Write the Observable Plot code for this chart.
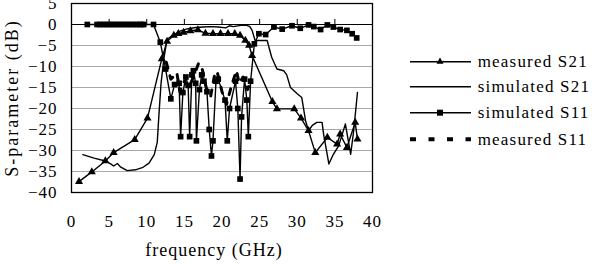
<!DOCTYPE html>
<html>
<head>
<meta charset="utf-8">
<script src="https://cdn.jsdelivr.net/npm/d3@7"></script>
<script src="https://cdn.jsdelivr.net/npm/@observablehq/plot@0.6"></script>
<style>
  html, body { margin: 0; padding: 0; background: #fff; }
  #chart svg { display: block; }
</style>
</head>
<body>
<div id="chart"></div>
<script>
// Axis ticks
const xTicks = [0, 5, 10, 15, 20, 25, 30, 35, 40];
const yTicks = [5, 0, -5, -10, -15, -20, -25, -30, -35, -40];

// Measured S21 (GHz, dB)
const measS21Freq = [1.0, 2.7, 4.5, 5.6, 8.4, 10.1, 12.0, 12.7, 13.6, 14.2, 14.9, 15.8, 16.8, 17.8, 18.8, 19.8, 20.8, 21.7, 22.4, 23.1, 23.6, 24.0, 26.7, 27.3, 29.6, 30.5, 31.5, 32.4, 34.0, 35.3, 35.7, 36.6, 37.7, 38.0];
const measS21dB   = [-37.4, -35.1, -32.5, -30.5, -27.4, -22.3, -8.2, -4.0, -2.6, -2.2, -1.9, -1.5, -1.3, -2.1, -2.2, -2.2, -2.2, -2.2, -2.6, -3.8, -5.0, -7.4, -18.4, -20.1, -20.1, -22.3, -25.3, -30.5, -26.9, -28.5, -26.1, -29.3, -23.3, -27.3];

// Simulated S21
const simS21Freq = [1.5, 3.0, 4.5, 5.2, 5.6, 6.1, 6.5, 7.4, 8.5, 9.5, 10.3, 11.0, 11.4, 11.6, 11.9, 12.3, 12.7, 13.5, 14.5, 15.5, 16.5, 17.5, 18.5, 19.5, 20.5, 21.0, 21.5, 22.5, 23.3, 23.7, 24.0, 24.4, 25.0, 26.0, 26.6, 27.3, 28.2, 28.6, 29.1, 30.0, 30.6, 31.1, 31.5, 32.0, 32.6, 33.3, 33.5, 34.2, 34.8, 35.5, 36.4, 37.1, 37.5, 38.0];
const simS21dB   = [-31.0, -31.8, -32.5, -33.2, -33.7, -33.1, -33.9, -34.8, -34.6, -34.0, -33.0, -31.0, -28.0, -22.0, -14.0, -7.8, -3.5, -2.5, -1.5, -1.0, -0.7, -0.6, -0.5, -0.6, -0.8, -0.3, -0.5, -0.2, -0.2, -0.5, -1.4, -3.8, -3.8, -3.8, -7.8, -10.6, -11.0, -12.0, -15.0, -16.5, -17.4, -22.9, -25.3, -24.0, -23.3, -23.3, -26.1, -33.2, -30.9, -28.9, -23.7, -30.9, -25.3, -16.2];

// Simulated S11
const simS11Freq = [2.1, 3.4, 3.8, 4.2, 4.6, 5.0, 5.4, 5.8, 6.2, 6.6, 7.0, 7.4, 7.8, 8.2, 8.6, 9.0, 9.3, 9.6, 10.9, 11.8, 12.5, 13.2, 13.7, 14.3, 14.5, 14.8, 15.2, 15.5, 15.7, 16.0, 16.2, 16.5, 16.6, 17.0, 17.3, 17.6, 18.0, 18.3, 18.6, 18.8, 19.2, 19.5, 20.4, 20.7, 21.0, 21.8, 22.1, 22.4, 22.6, 23.0, 23.3, 23.5, 23.8, 24.3, 24.9, 25.8, 26.9, 28.0, 29.3, 30.4, 31.5, 32.2, 33.1, 34.0, 34.8, 35.7, 36.6, 37.3, 37.9];
const simS11dB   = [0, 0, 0, 0, 0, 0, 0, 0, 0, 0, 0, 0, 0, 0, 0, 0, 0, 0, 0, -4.2, -10.6, -17.7, -14.3, -14.0, -26.7, -16.2, -12.5, -14.5, -26.7, -12.0, -11.0, -14.0, -27.7, -15.5, -12.0, -13.5, -16.0, -25.0, -31.3, -27.7, -13.5, -13.0, -18.0, -27.7, -20.0, -13.5, -20.0, -36.8, -22.0, -13.0, -18.0, -26.7, -13.5, -4.6, -2.2, -2.4, -0.6, -1.1, -0.3, -0.9, -0.1, -0.5, -1.2, -0.1, -0.6, -1.2, -1.4, -2.2, -3.2];

// Measured S11
const measS11Freq = [12.6, 13.2, 13.8, 14.0, 14.4, 15.0, 15.6, 16.2, 16.9, 17.4, 17.9, 18.5, 19.1, 19.4, 20.0, 20.6, 21.2, 21.9, 22.3, 22.8, 23.4, 23.8];
const measS11dB   = [-9.0, -13.0, -12.0, -11.5, -16.0, -13.5, -15.0, -12.5, -9.2, -10.8, -15.0, -17.0, -11.2, -11.6, -16.0, -19.0, -15.0, -11.0, -14.0, -12.5, -15.5, -13.5];

const series = (f, v) => f.map((x, i) => ({f: x, dB: v[i]}));
const measS21 = series(measS21Freq, measS21dB);
const simS21 = series(simS21Freq, simS21dB);
const simS11 = series(simS11Freq, simS11dB);
const measS11 = series(measS11Freq, measS11dB);

const FONT = "'Liberation Serif', 'Times New Roman', serif";

const chart = Plot.plot({
  width: 598,
  height: 264,
  marginLeft: 71,
  marginRight: 226,
  marginTop: 3,
  marginBottom: 72,
  style: {fontFamily: FONT, fontSize: "17px", letterSpacing: "1px", color: "#000", background: "#fff"},
  x: {domain: [0, 40]},
  y: {domain: [-40, 5]},
  marks: [
    Plot.ruleY(yTicks, {stroke: "#a8a8a8", strokeWidth: 1}),
    Plot.ruleY([0], {stroke: "#000", strokeWidth: 1}),
    Plot.ruleX(xTicks.slice(1, -1), {y1: 0, y2: 1.2, stroke: "#000", strokeWidth: 1}),
    Plot.frame({stroke: "#000", strokeWidth: 1.3}),
    Plot.axisY(yTicks, {tickSize: 0, tickPadding: 14, fontSize: 17, label: null}),
    Plot.axisX(xTicks, {tickSize: 0, tickPadding: 22, fontSize: 17, label: null}),
    // curves
    Plot.line(simS21, {x: "f", y: "dB", stroke: "#000", strokeWidth: 1.4}),
    Plot.line(measS21, {x: "f", y: "dB", stroke: "#000", strokeWidth: 1.4}),
    Plot.dot(measS21, {x: "f", y: "dB", symbol: "triangle", r: 3, fill: "#000", stroke: "none"}),
    Plot.line(simS11, {x: "f", y: "dB", stroke: "#000", strokeWidth: 1.4}),
    Plot.dot(simS11, {x: "f", y: "dB", symbol: "square", r: 3.2, fill: "#000", stroke: "none"}),
    Plot.line(measS11, {x: "f", y: "dB", stroke: "#000", strokeWidth: 3, strokeDasharray: "6,8"})
  ]
});

document.getElementById("chart").appendChild(chart);

const svg = d3.select(chart);

// Axis titles
svg.append("text")
  .attr("x", 214).attr("y", 250).attr("dy", "0.32em")
  .attr("text-anchor", "middle").attr("font-size", 18).attr("fill", "#000")
  .text("frequency (GHz)");
svg.append("text")
  .attr("transform", "translate(12,98) rotate(-90)").attr("dy", "0.32em")
  .attr("text-anchor", "middle").attr("font-size", 18).attr("letter-spacing", "2px").attr("fill", "#000")
  .text("S-parameter (dB)");

// Legend on the right
const legendItems = [
  {label: "measured S21", marker: "triangle", dash: null, width: 1.4},
  {label: "simulated S21", marker: null, dash: null, width: 1.4},
  {label: "simulated S11", marker: "square", dash: null, width: 1.4},
  {label: "measured S11", marker: null, dash: "6,12.5", width: 4}
];
const legendY = [61.7, 86.7, 112.7, 139.3];
const lg = svg.append("g").attr("font-size", 17).attr("letter-spacing", "1.2px");
legendItems.forEach((d, i) => {
  const y = legendY[i];
  lg.append("line").attr("x1", 410).attr("x2", 471).attr("y1", y).attr("y2", y)
    .attr("stroke", "#000").attr("stroke-width", d.width)
    .attr("stroke-dasharray", d.dash);
  if (d.marker) {
    lg.append("path").attr("transform", `translate(440,${y})`)
      .attr("d", d3.symbol(d.marker === "square" ? d3.symbolSquare : d3.symbolTriangle, d.marker === "square" ? 36 : 22)())
      .attr("fill", "#000");
  }
  lg.append("text").attr("x", 477.7).attr("y", y).attr("dy", "0.32em")
    .attr("text-anchor", "start").attr("fill", "#000").text(d.label);
});
</script>
</body>
</html>
